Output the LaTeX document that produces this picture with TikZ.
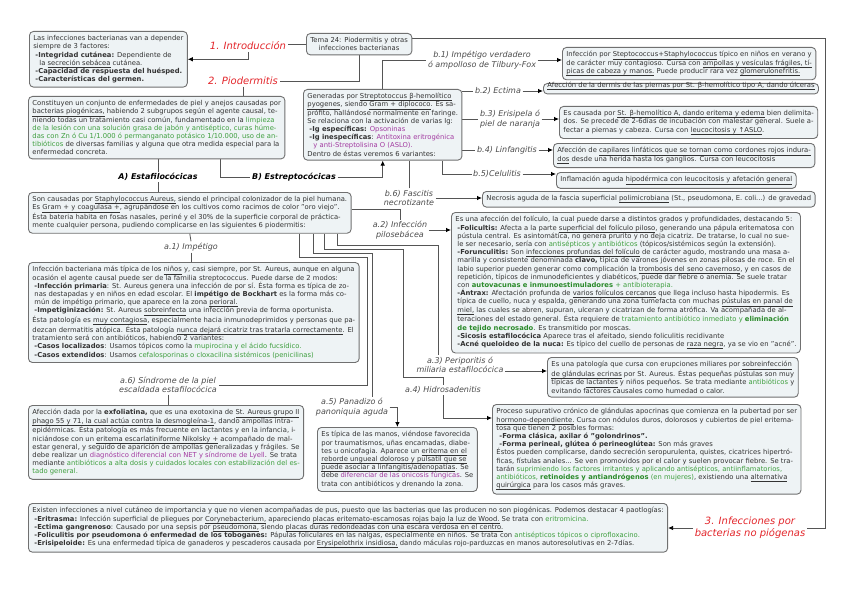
\documentclass[tikz,border=0pt]{standalone}
\usepackage{fontspec}
\setmainfont{DejaVu Sans}
\usetikzlibrary{arrows.meta,calc}
\definecolor{boxfill}{HTML}{EEF3F5}
\definecolor{boxline}{HTML}{707070}
\definecolor{linkgray}{HTML}{555555}
\definecolor{titlered}{HTML}{E3262B}
\definecolor{txtgreen}{HTML}{3E9E3E}
\definecolor{txtgreendk}{HTML}{2A8A2A}
\definecolor{txtpurple}{HTML}{A23AA0}
\definecolor{txtgray}{HTML}{333333}
\newcommand{\grn}[1]{\textcolor{txtgreen}{#1}}
\newcommand{\grnb}[1]{\textcolor{txtgreendk}{\textbf{#1}}}
\newcommand{\purp}[1]{\textcolor{txtpurple}{#1}}
\newcommand{\ulx}[1]{\underline{\smash{#1}\vrule width 0pt depth 0.5pt}}
\pgfdeclarelayer{back}
\pgfsetlayers{back,main}

\begin{document}
\begin{tikzpicture}[x=1pt,y=-1pt,>=Latex,
  box/.style={draw=boxline,fill=boxfill,rounded corners=4pt,line width=0.9pt,align=left,anchor=north west,inner xsep=4pt,inner ysep=4pt,font=\fontsize{6.8}{8.2}\selectfont,text=txtgray},
  lbl/.style={font=\fontsize{8}{9.5}\selectfont\itshape,text=black!70,align=center,inner sep=1.5pt},
  sect/.style={font=\fontsize{10}{12}\selectfont\itshape,text=titlered,align=center,inner sep=1.5pt},
  grp/.style={font=\fontsize{8}{9.5}\selectfont\bfseries\itshape,inner sep=1.5pt},
  link/.style={draw=linkgray,line width=0.8pt},
  arr/.style={link,-{Latex[length=5pt,width=4.5pt,color=black]}}]
  \useasboundingbox (0,0) rectangle (848,599);

  \node[box] (intro) at (29,31) {Las infecciones bacterianas van a depender\\
    siempre de 3 factores:\\
    \hspace*{2pt}\textbf{-Integridad cutánea:} Dependiente de\\
    \hspace*{6pt}la \ulx{secreción sebácea} cutánea.\\
    \hspace*{2pt}\textbf{-Capacidad de respuesta del huésped.}\\
    \hspace*{2pt}\textbf{-Características del germen.}};
  \node[box,align=center] (tema) at (306,33) {Tema 24: Piodermitis y otras\\infecciones bacterianas};
  \node[sect] (intr) at (248,46) {1. Introducción};
  \node[sect] (piot) at (243,81) {2. Piodermitis};
  \node[box] (pio) at (28,96) {Constituyen un conjunto de enfermedades de piel y anejos causadas por\\
    \ulx{bacterias piogénicas,} habiendo 2 subgrupos según el agente causal, te-\\
    niendo todas un tratamiento casi común, fundamentado en la \grn{limpieza}\\
    \grn{de la lesión con una solución grasa de jabón y antiséptico, curas húme-}\\
    \grn{das con Zn ó Cu 1/1.000 ó permanganato potásico 1/10.000, uso de an-}\\
    \grn{tibióticos} de diversas familias y alguna que otra medida especial para la\\
    enfermedad concreta.};
  \node[grp] (estaf) at (158,177) {A) Estafilocócicas};
  \node[grp] (estrep) at (294,177) {B) Estreptocócicas};
  \node[box] (strep) at (303,89) {Generadas por \ulx{Streptotoccus β-hemolítico}\\
    \ulx{pyogenes}, siendo \ulx{Gram + diplococo}. Es sa-\\
    prófito, hallándose normalmente en faringe.\\
    Se relaciona con la activación de varias Ig:\\
    \hspace*{2pt}\textbf{-Ig específicas:} \purp{Opsoninas}\\
    \hspace*{2pt}\textbf{-Ig inespecíficas}: \purp{Antitoxina eritrogénica}\\
    \hspace*{6pt}\purp{y anti-Streptolisina O (ASLO).}\\
    Dentro de éstas veremos 6 variantes:};

  \node[lbl] (b1) at (482,60) {b.1) Impétigo verdadero\\ó ampolloso de Tilbury-Fox};
  \node[box] (b1box) at (562,47) {Infección por \ulx{Steptococcus+Staphylococcus} típico en niños en verano y\\
    de carácter muy contagioso. Cursa con \ulx{ampollas y vesículas frágiles, tí-}\\
    \ulx{picas de cabeza y manos.} Puede producir rara vez \ulx{glomerulonefritis.}};
  \node[lbl] (b2) at (498,91) {b.2) Ectima};
  \node[box] (b2box) at (543,83) {\ulx{Afección de la dermis de las piernas por St. β-hemolítico tipo A, dando úlceras}};
  \node[lbl] (b3) at (510,119) {b.3) Erisipela ó\\piel de naranja};
  \node[box] (b3box) at (559,106) {Es causada por \ulx{St. β-hemolítico A, dando eritema y edema} bien delimita-\\
    dos. Se precede de 2-6días de incubación con malestar general. Suele a-\\
    fectar a piernas y cabeza. Cursa con \ulx{leucocitosis y ↑ASLO}.};
  \node[lbl] (b4) at (507,150) {b.4) Linfangitis};
  \node[box] (b4box) at (553,143) {Afección de \ulx{capilares linfáticos que se tornan como cordones rojos indura-}\\
    \ulx{dos} desde una herida hasta los ganglios. Cursa con leucocitosis};
  \node[lbl] (b5) at (497,174) {b.5)Celulitis};
  \node[box] (b5box) at (556,172) {Inflamación aguda \ulx{hipodérmica con leucocitosis y afetación general}};
  \node[lbl] (b6) at (409,198) {b.6) Fascitis\\necrotizante};
  \node[box] (b6box) at (482,191) {Necrosis aguda de la fascia superficial \ulx{polimicrobiana} (St., pseudomona, E. coli...) de gravedad};

  \node[box] (staph) at (28,192) {Son causadas por \ulx{Staphylococcus Aureus,} siendo el principal colonizador de la piel humana.\\
    Es \ulx{Gram + y coagulasa +}, agrupándose en los cultivos como racimos de color "oro viejo".\\
    Ésta bateria habita en fosas nasales, periné y el 30\% de la superficie corporal de práctica-\\
    mente cualquier persona, pudiendo complicarse en las siguientes 6 piodermitis:};
  \node[lbl] (a1) at (191,247) {a.1) Impétigo};
  \node[box] (imp) at (28,262) {Infección bacteriana más típica de los \ulx{niños} y, casi siempre, por St. Aureus, aunque en alguna\\
    ocasión el agente causal puede ser de la familia streptococcus. Puede darse de 2 modos:\\
    \hspace*{2pt}\textbf{-Infección primaria}: St. Aureus genera una infección de por sí. Ésta forma es típica de zo-\\
    \hspace*{2pt}nas destapadas y en niños en edad escolar. El \textbf{impétigo de Bockhart} es la forma más co-\\
    \hspace*{2pt}mún de impétigo primario, que aparece en la zona \ulx{perioral.}\\
    \hspace*{2pt}\textbf{-Impetiginización:} St. Aureus \ulx{sobreinfecta} una infección previa de forma oportunista.\\
    Ésta patología es \ulx{muy contagiosa}, especialmente hacia inmunodeprimidos y personas que pa-\\
    dezcan dermatitis atópica. Ésta patología \ulx{nunca dejará cicatriz tras tratarla correctamente}. El\\
    tratamiento será con antibióticos, habiendo 2 variantes:\\
    \hspace*{2pt}\textbf{-Casos localizados}: Usamos tópicos como la \grn{mupirocina y el ácido fucsídico.}\\
    \hspace*{2pt}\textbf{-Casos extendidos}: Usamos \grn{cefalosporinas o cloxacilina sistémicos (penicilinas)}};
  \node[lbl] (a2) at (400,230) {a.2) Infección\\pilosebácea};
  \node[box] (a2box) at (451,212) {Es una afección del folículo, la cual puede darse a distintos grados y profundidades, destacando 5:\\
    \hspace*{2pt}\textbf{-Folicultis:} Afecta a la parte \ulx{superficial del folículo piloso}, generando una pápula eritematosa con\\
    \hspace*{2pt}pústula central. Es asintomática, no genera prurito y no deja cicatriz. De tratarse, lo cual no sue-\\
    \hspace*{2pt}le ser necesario, sería con \grn{antisépticos y antibióticos} (tópicos/sistémicos según la extensión).\\
    \hspace*{2pt}\textbf{-Forunculitis:} Son \ulx{infecciones profundas del folículo} de carácter agudo, mostrando una masa a-\\
    \hspace*{2pt}marilla y consistente denominada \textbf{clavo,} típica de varones jóvenes en zonas pilosas de roce. En el\\
    \hspace*{2pt}labio superior pueden generar como complicación la \ulx{trombosis del seno cavernoso}, y en casos de\\
    \hspace*{2pt}repetición, típicos de inmunodeficientes y diabéticos, puede dar fiebre o anemia. Se suele tratar\\
    \hspace*{2pt}con \grnb{autovacunas e inmunoestimuladores} \grn{+ antibioterapia.}\\
    \hspace*{2pt}\textbf{-Ántrax:} Afectación profunda de \ulx{varios folículos cercanos} que llega incluso hasta hipodermis. Es\\
    \hspace*{2pt}típica de cuello, nuca y espalda, generando una zona tumefacta con muchas \ulx{pústulas en panal de}\\
    \hspace*{2pt}\ulx{miel,} las cuales se abren, supuran, ulceran y cicatrizan de forma atrófica. Va acompañada de al-\\
    \hspace*{2pt}teraciones del estado general. Ésta requiere de \grn{tratamiento antibiótico inmediato y} \grnb{eliminación}\\
    \hspace*{2pt}\grnb{de tejido necrosado}. Es transmitido por moscas.\\
    \hspace*{2pt}\textbf{-Sicosis estafilocócica} Aparece tras el afeitado, siendo foliculitis recidivante\\
    \hspace*{2pt}\textbf{-Acné queloideo de la nuca:} Es típico del cuello de personas de \ulx{raza negra}, ya se vio en "acné".};
  \node[lbl] (a3) at (460,365) {a.3) Periporitis ó\\miliaria estafilocócica};
  \node[box] (peri) at (547,357) {Es una patología que cursa con erupciones miliares por \ulx{sobreinfección}\\
    \ulx{de glándulas ecrinas} por St. Aureus. Éstas pequeñas pústulas son muy\\
    típicas de \ulx{lactantes} y niños pequeños. Se trata mediante \grn{antibióticos} y\\
    evitando factores causales como humedad o calor.};
  \node[lbl] (a4) at (443,390) {a.4) Hidrosadenitis};
  \node[box] (hidro) at (492,404) {Proceso supurativo crónico de glándulas apocrinas que comienza en la pubertad por ser\\
    \ulx{hormono-dependiente.} Cursa con nódulos duros, dolorosos y cubiertos de piel eritema-\\
    tosa que tienen 2 posibles formas:\\
    \hspace*{3pt}\textbf{-Forma clásica, axilar ó "golondrinos".}\\
    \hspace*{3pt}\textbf{-Forma perineal, glútea ó perineoglútea:} Son más graves\\
    Éstos pueden complicarse, dando secreción seropurulenta, quistes, cicatrices hipertró-\\
    ficas, fístulas anales... Se ven promovidos por el calor y suelen provocar fiebre. Se tra-\\
    tarán \grn{suprimiendo los factores irritantes y aplicando antisépticos, antiinflamatorios,}\\
    \grn{antibióticos,} \grnb{retinoides y antiandrógenos} \grn{(en mujeres)}, existiendo una \ulx{alternativa}\\
    \ulx{quirúrgica} para los casos más graves.};
  \node[lbl] (a5) at (352,407) {a.5) Panadizo ó\\panoniquia aguda};
  \node[box] (pana) at (317,427) {Es típica de las manos, viéndose favorecida\\
    por traumatismos, uñas encarnadas, diabe-\\
    tes u onicofagia. Aparece un \ulx{eritema en el}\\
    \ulx{reborde ungueal doloroso y pulsatil que se}\\
    \ulx{puede asociar a linfangitis/adenopatías}. Se\\
    debe \purp{diferenciar de las onicosis fúngicas}. Se\\
    trata con antibióticos y drenando la zona.};
  \node[lbl] (a6) at (168,385) {a.6) Síndrome de la piel\\escaldada estafilocócica};
  \node[box] (ssss) at (28,405) {Afección dada por la \textbf{exfoliatina,} que es una exotoxina de \ulx{St. Aureus grupo II}\\
    \ulx{phago 55 y 71, la cual actúa contra la desmogleína-1}, dando ampollas intra-\\
    epidérmicas. Ésta patología es más frecuente en lactantes y en la infancia, i-\\
    niciándose con un \ulx{eritema escarlatiniforme Nikolsky +} acompañado de mal-\\
    estar general, y seguido de aparición de ampollas generalizadas y frágiles. Se\\
    debe realizar un \purp{diagnóstico diferencial con NET y síndrome de Lyell}. Se trata\\
    mediante \grn{antibióticos a alta dosis y cuidados locales con estabilización del es-}\\
    \grn{tado general.}};
  \node[box] (nopio) at (28,503) {Existen infecciones a nivel cutáneo de importancia y que no vienen acompañadas de pus, puesto que las bacterias que las producen no son piogénicas. Podemos destacar 4 paotlogías:\\
    \hspace*{2pt}\textbf{-Eritrasma:} Infección superficial de pliegues por \ulx{Corynebacterium,} apareciendo \ulx{placas eritemato-escamosas rojas bajo la luz de Wood.} Se trata con \grn{eritromicina.}\\
    \hspace*{2pt}\textbf{-Ectima gangrenoso}: Causado por una sepsis por \ulx{pseudomona,} siendo \ulx{placas duras redondeadas con una escara verdosa en el centro.}\\
    \hspace*{2pt}\textbf{-Foliculitis por pseudomona ó enfermedad de los toboganes:} Pápulas foliculares en las nalgas, especialmente en niños. Se trata con \grn{antisépticos tópicos o ciprofloxacino.}\\
    \hspace*{2pt}\textbf{-Erisipeloide:} Es una enfermedad típica de ganaderos y pescaderos causada por \ulx{Erysipelothrix insidiosa,} dando máculas rojo-parduzcas en manos autoresolutivas en 2-7días.};
  \node[sect] (nopt) at (750,528) {3. Infecciones por\\bacterias no piógenas};

  \begin{pgfonlayer}{back}
    \fill[white] (0,0) rectangle (848,599);
    \draw[link] (tema.west) -- (tema.west -| intr.east);
    \draw[arr] (intr.south) |- (intro.east);
    \draw[link] (tema.south) |- (piot.east);
    \draw[link] (piot.south) -- (piot.south |- pio.north);
    \draw[link] (pio.south -| estaf) -- (estaf.north);
    \draw[link] (estaf.south) -- (estaf.south |- staph.north);
    \draw[link] ([xshift=64pt]pio.south) |- (estrep.west);
    \draw[arr] (estrep.east) -| (strep.south);
    \draw[link] (strep.north) |- (b1.west);
    \draw[arr] (b1.east) -- (b1.east -| b1box.west);
    \draw[link] (strep.east |- b2.west) -- (b2.west);
    \draw[arr] (b2.east) -- (b2.east -| b2box.west);
    \draw[link] (strep.east |- b3.west) -- (b3.west);
    \draw[arr] (b3.east) -- (b3.east -| b3box.west);
    \draw[link] (strep.east |- b4.west) -- (b4.west);
    \draw[arr] (b4.east) -- (b4.east -| b4box.west);
    \draw[link] (b5.west) -| ([xshift=60pt]strep.south);
    \draw[arr] (b5.east) -- (b5.east -| b5box.west);
    \draw[link] (b6.north) -- (b6.north |- strep.south);
    \draw[arr] (b6.east) -- (b6.east -| b6box.west);
    \draw[link] ([yshift=6pt]tema.east) -- ++(413,0) |- (nopt.east);
    \draw[arr] (nopt.west) -- (nopt.west -| nopio.east);
    \draw[link] ([yshift=3pt]staph.east) -| (a2.north);
    \draw[arr] (a2.east) -- (a2.east -| a2box.west);
    \draw[link] (staph.south) -- (a1.north);
    \draw[link] (a1.south) -- (a1.south |- imp.north);
    \draw[link] ([xshift=148pt]staph.south) |- (438,245) -- (438,245 |- a3.north);
    \draw[arr] ([yshift=-6pt]a3.east) -- ([yshift=-6pt]a3.east -| peri.west);
    \draw[link] ([xshift=135pt]staph.south) |- (403,249) -- (403,377) -| (a4.north);
    \draw[arr] (a4.south) |- ([yshift=-14pt]hidro.north west);
    \draw[link] ([xshift=124pt]staph.south) |- (372,253) -- (372,253 |- a5.north);
    \draw[arr] (a5.east) -| (pana.north);
    \draw[link] ([xshift=110pt]staph.south) |- (367,257) |- (a6.east);
    \draw[link] (a6.south) -- (a6.south |- ssss.north);
  \end{pgfonlayer}
\end{tikzpicture}
\end{document}
